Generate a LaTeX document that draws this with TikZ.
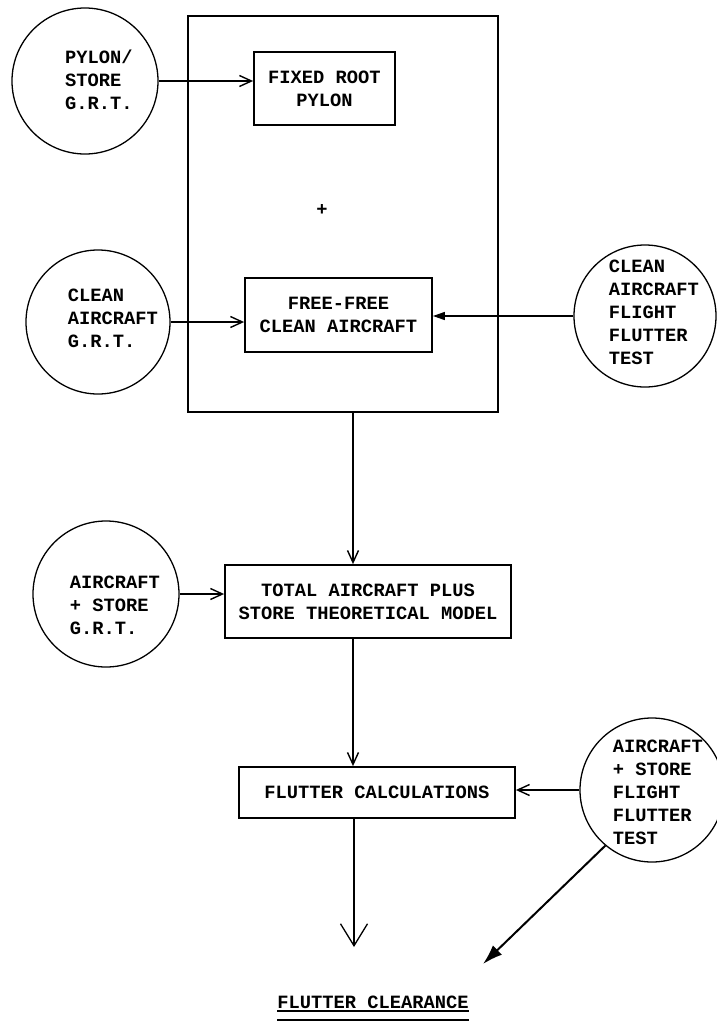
\documentclass[tikz,border=0pt]{standalone}
\usepackage{fontspec}
\setmonofont{Liberation Mono}
\usetikzlibrary{arrows.meta,positioning}

\begin{document}
\begin{tikzpicture}[x=1pt,y=-1pt,>={Straight Barb[length=12pt,width=11pt]},
  txt/.style={font=\ttfamily\bfseries\fontsize{18.75}{23}\selectfont,align=left,inner sep=0pt},
  stepbox/.style={draw,line width=1.8pt,align=center,font=\ttfamily\bfseries\fontsize{18.75}{23}\selectfont},
  disc/.style={draw,circle,line width=1.3pt,inner sep=0pt},
  flow/.style={->,line width=1.4pt}]
\useasboundingbox (0,0) rectangle (716,1023);
% outer frame holding the two reduced models
\node[draw,line width=1.8pt,minimum width=310pt,minimum height=396pt] (frame) at (343,214) {};
\node[stepbox,minimum width=141pt,minimum height=73pt] (fixed) at (324.5,88.5) {FIXED ROOT\\PYLON};
\node[txt] (plus) at (322,210) {+};
\node[stepbox,minimum width=187pt,minimum height=74pt] (free) at (338.5,315) {FREE-FREE\\CLEAN AIRCRAFT};
\node[stepbox,minimum width=286pt,minimum height=73pt] (total) at (368,601.5) {TOTAL AIRCRAFT PLUS\\STORE THEORETICAL MODEL};
\node[stepbox,minimum width=276pt,minimum height=51pt] (flutter) at (377,792.5) {FLUTTER CALCULATIONS};
% test inputs
\node[disc,minimum size=146pt] (pylongrt) at (85,81) {};
\node[txt] (pylontxt) at (99,80) {PYLON/\\STORE\\G.R.T.};
\node[disc,minimum size=144pt] (cleangrt) at (98,322) {};
\node[txt] (cleantxt) at (113,318) {CLEAN\\AIRCRAFT\\G.R.T.};
\node[disc,minimum size=142pt] (cleanfft) at (645,316) {};
\node[txt] (cleanffttxt) at (654,312) {CLEAN\\AIRCRAFT\\FLIGHT\\FLUTTER\\TEST};
\node[disc,minimum size=146pt] (storegrt) at (106,594) {};
\node[txt] (storetxt) at (115,605) {AIRCRAFT\\+ STORE\\G.R.T.};
\node[disc,minimum size=144pt] (storefft) at (652,790) {};
\node[txt] (storeffttxt) at (658,792) {AIRCRAFT\\+ STORE\\FLIGHT\\FLUTTER\\TEST};
% result
\node[txt,anchor=base] (clear) at (373,1008) {FLUTTER CLEARANCE};
\draw[line width=1.1pt] ([yshift=-3pt]clear.base west) -- ([yshift=-3pt]clear.base east);
\draw[line width=2.2pt] ([yshift=-12pt]clear.base west) -- ([yshift=-12pt]clear.base east);
\coordinate (spine) at (353,500);
\coordinate (done) at (354,947);
\coordinate (tip) at (483,964);
% connectors
\draw[flow] (pylongrt.east) -- (pylongrt.east -| fixed.west);
\draw[flow] (cleangrt.east) -- (cleangrt.east -| free.west);
\draw[-{Triangle[length=12pt,width=8pt]},line width=1.4pt] (cleanfft.west) -- (cleanfft.west -| free.east);
\draw[flow] (frame.south -| spine) -- (total.north -| spine);
\draw[flow] (storegrt.east) -- (storegrt.east -| total.west);
\draw[flow] (total.south -| spine) -- (flutter.north -| spine);
\draw[flow] (storefft.west) -- (storefft.west -| flutter.east);
\draw[-{Straight Barb[length=22pt,width=27pt]},line width=1.3pt] (flutter.south -| done) -- (done);
\draw[-{Latex[length=20pt,width=13pt]},line width=2pt] (storefft.-130) -- (tip);
\end{tikzpicture}
\end{document}
